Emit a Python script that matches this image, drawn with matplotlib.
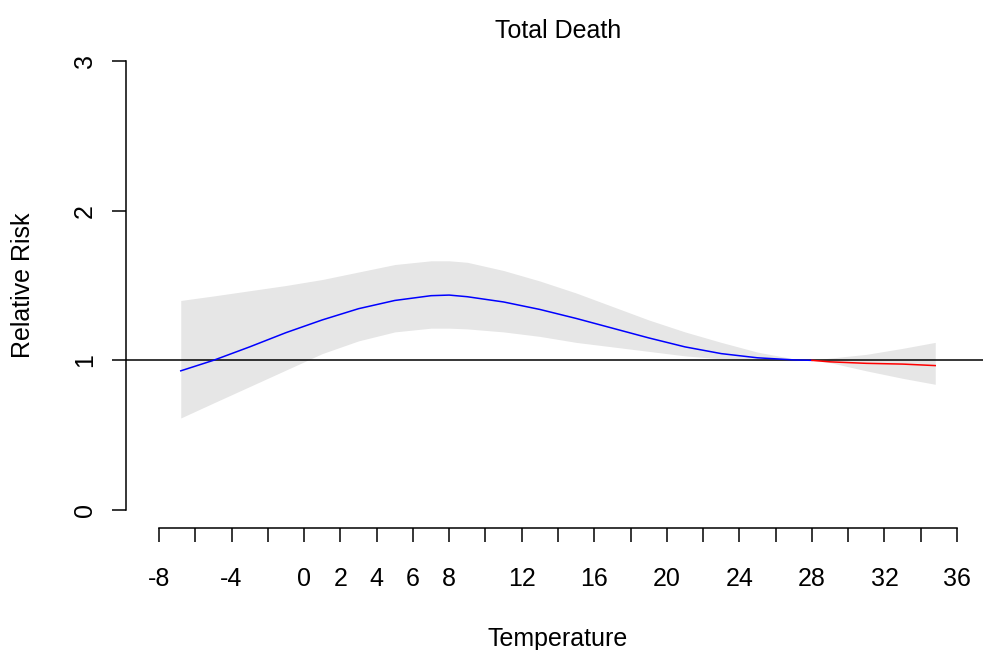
import matplotlib
matplotlib.use("Agg")
import matplotlib.pyplot as plt
import numpy as np

# Data
temp = [-6.8, -5, -3, -1, 1, 3, 5, 7, 8, 9, 11, 13, 15, 17, 19, 21, 23, 25, 27, 28, 29, 31, 33, 34.8]
rr = [0.93, 1.00, 1.09, 1.185, 1.27, 1.345, 1.40, 1.432, 1.436, 1.425, 1.39, 1.34, 1.28,
      1.215, 1.15, 1.09, 1.045, 1.017, 1.003, 1.0, 0.99, 0.98, 0.975, 0.965]
upper = [1.40, 1.43, 1.465, 1.50, 1.54, 1.59, 1.64, 1.665, 1.665, 1.655, 1.60, 1.53, 1.45,
         1.36, 1.27, 1.19, 1.12, 1.055, 1.01, 1.0, 1.015, 1.04, 1.08, 1.12]
lower = [0.615, 0.715, 0.825, 0.935, 1.045, 1.13, 1.19, 1.215, 1.215, 1.21, 1.19, 1.16, 1.12,
         1.09, 1.06, 1.03, 1.01, 1.0, 0.998, 1.0, 0.985, 0.93, 0.88, 0.84]
mmt = 28
x_ticks = list(range(-8, 37, 2))
x_labels_shown = [-8, -4, 0, 2, 4, 6, 8, 12, 16, 20, 24, 28, 32, 36]
y_ticks = [0, 1, 2, 3]

plt.rcParams['font.family'] = ['Liberation Sans', 'DejaVu Sans']
fs = 18

fig = plt.figure(figsize=(9.83, 6.5), dpi=100)
ax = fig.add_axes([126/983, (650-528)/650, 864/983, 485/650])
ax.set_xlim(-9.82, 37.82)
ax.set_ylim(-0.12, 3.12)

t = np.array(temp)
r = np.array(rr)
ax.fill_between(t, lower, upper, color='#E6E6E6', linewidth=0, zorder=1)
ax.axhline(1, color='black', linewidth=1.1, zorder=2)
cold = t <= mmt
hot = t >= mmt
ax.plot(t[cold], r[cold], color='#0000FF', linewidth=1.1, zorder=3)
ax.plot(t[hot], r[hot], color='#FF0000', linewidth=1.1, zorder=3)

for s in ['top', 'right']:
    ax.spines[s].set_visible(False)
ax.spines['left'].set_bounds(0, 3)
ax.spines['bottom'].set_bounds(-8, 36)
ax.spines['left'].set_linewidth(1.1)
ax.spines['bottom'].set_linewidth(1.1)

ax.set_xticks(x_ticks)
ax.set_xticklabels([str(v) if v in x_labels_shown else '' for v in x_ticks])
ax.set_yticks(y_ticks)
ax.set_yticklabels([str(v) for v in y_ticks], rotation=90, va='center')
ax.tick_params(axis='both', direction='out', length=10, width=1.1, labelsize=fs)
ax.tick_params(axis='x', pad=18)
ax.tick_params(axis='y', pad=11)

ax.set_xlabel('Temperature', fontsize=fs, labelpad=26)
ax.set_ylabel('Relative Risk', fontsize=fs, labelpad=27)
ax.set_title('Total Death', fontsize=fs, pad=3.5)

fig.savefig('out.png', dpi=100)
